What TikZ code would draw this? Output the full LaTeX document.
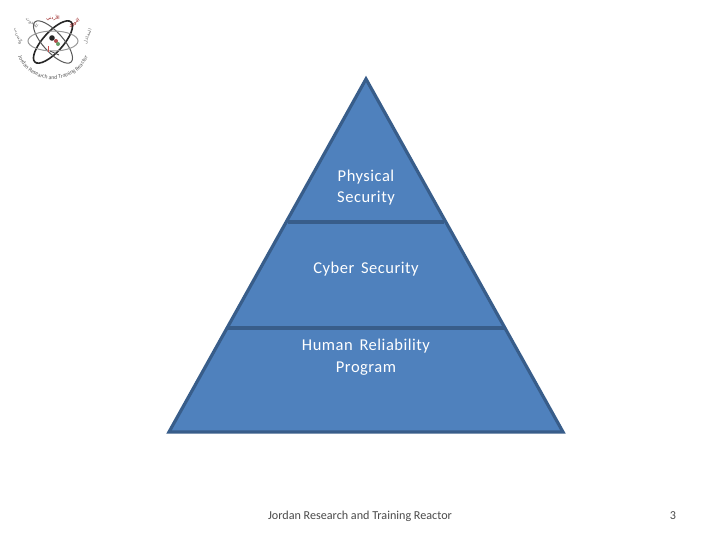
\documentclass[tikz,border=0pt]{standalone}
\usepackage{fontspec}
\setmainfont{Carlito}
\newfontfamily\arabicfont[Script=Arabic]{DejaVu Sans}
\newfontfamily\spacedfont[LetterSpace=3,WordSpace=1.6]{Carlito}
\TeXXeTstate=1
\usetikzlibrary{decorations.text,calc}
\definecolor{pyrfill}{HTML}{4F81BD}
\definecolor{pyredge}{HTML}{385D8A}
\definecolor{footgrey}{HTML}{4A4A4A}
\tikzset{
  tier/.style={fill=pyrfill,draw=pyredge,line width=2.4pt,line join=miter},
  sep/.style={draw=pyredge,line width=2.6pt},
  label/.style={text=white,font=\spacedfont\fontsize{12.4pt}{16.1pt}\selectfont,align=center,inner sep=0pt},
  foot/.style={text=footgrey,font=\fontsize{9.1pt}{10pt}\selectfont,inner sep=0pt},
  orbit/.style={draw=#1,line width=0.75pt},
  arword/.style={text=#1,font=\arabicfont\fontsize{3.5pt}{4pt}\selectfont,inner sep=0pt}
}
\begin{document}
\begin{tikzpicture}[x=0.75pt,y=-0.75pt]
\useasboundingbox (0,0) rectangle (720,540);
\fill[white] (0,0) rectangle (720,540);
% pyramid
\coordinate (apex) at (366,79);
\coordinate (bl) at (169,432);
\coordinate (br) at (563,432);
\coordinate (al) at (288,222);
\coordinate (ar) at (444,222);
\coordinate (cl) at (228,328);
\coordinate (cr) at (504,328);
\draw[tier] (apex) -- (br) -- (bl) -- cycle;
\draw[sep] (al) -- (ar);
\draw[sep] (cl) -- (cr);
\node[label] (phys) at (366,187.5) {Physical\\Security};
\node[label] (cyber) at (366,269) {Cyber Security};
\node[label] (human) at (366,357) {Human Reliability\\Program};
\node[foot] (footer) at (360,516) {Jordan Research and Training Reactor};
\node[foot] (pageno) at (673,516) {3};
% logo
\begin{scope}[shift={(53,42)}]
\draw[orbit=black!85,line width=1.2pt,rotate=48] (0,0) ellipse (27 and 10);
\draw[orbit=black!65,rotate=-48] (0,0) ellipse (27 and 10);
\draw[orbit=black!40] (0,-1) ellipse (25 and 10);
\fill[black!85] (-1,-4) circle (2.8);
\fill[red!55!black!70] (3,-1) circle (2);
\fill[green!35!black!60] (5,2) circle (2);
\fill[red!70!black!70] (-5,4) rectangle (-4,10);
\draw[black!70,line width=0.6pt] (-3,9) -- (6,13);
\path[decorate,decoration={text along path,text align=center,
  text={|\fontsize{4.3pt}{5pt}\selectfont\color{black!65}|Jordan Research and Training Reactor}}]
  (-38,5) .. controls (-30,48) and (30,48) .. (38,5);
\foreach \a/\w/\c in {160/والتدريب/black!60,125/للبحوث/black!60,90/الأردني/red!55!black,55/النووي/red!55!black,20/المفاعل/black!55}{
  \node[arword=\c,rotate=90-\a] at ($(0,4)+(\a:37 and -28)$) {\beginR\w\endR};
}
\end{scope}
\end{tikzpicture}
\end{document}
